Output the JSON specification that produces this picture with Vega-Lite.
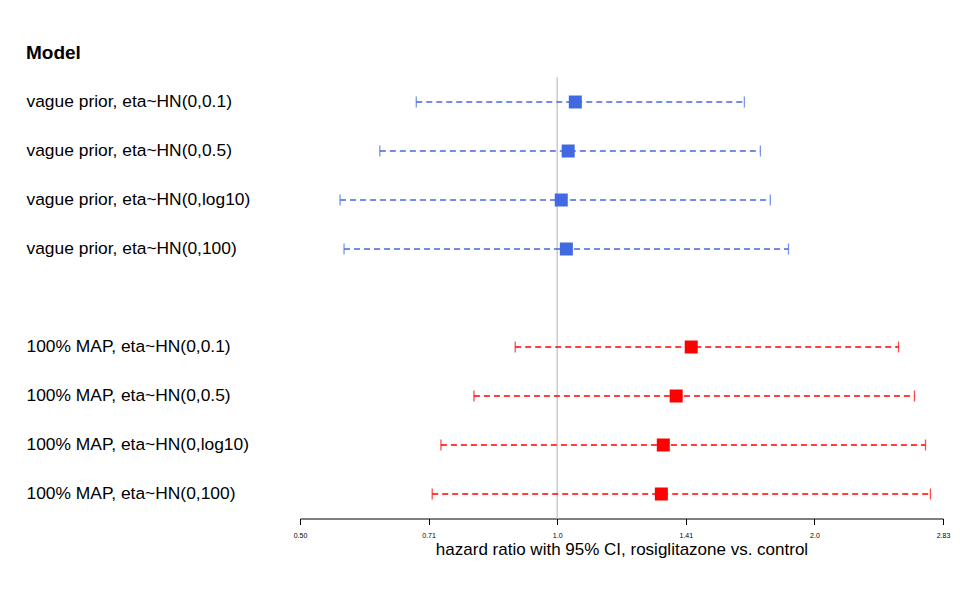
{
  "$schema": "https://vega.github.io/schema/vega-lite/v6.json",
  "width": 643,
  "height": 441,
  "autosize": {"type": "none"},
  "padding": {"left": 300, "top": 77.5, "right": 29, "bottom": 82.5},
  "background": "white",
  "title": {"text": "Model", "anchor": "start", "frame": "bounds", "font": "Liberation Sans", "fontSize": 19, "fontWeight": "bold", "color": "black", "offset": 14},
  "config": {"view": {"stroke": null}, "font": "Liberation Sans"},
  "data": {"values": [
    {"model": "vague prior, eta~HN(0,0.1)", "group": "vague", "est": 1.050, "lo": 0.684, "hi": 1.656},
    {"model": "vague prior, eta~HN(0,0.5)", "group": "vague", "est": 1.030, "lo": 0.620, "hi": 1.729},
    {"model": "vague prior, eta~HN(0,log10)", "group": "vague", "est": 1.011, "lo": 0.557, "hi": 1.776},
    {"model": "vague prior, eta~HN(0,100)", "group": "vague", "est": 1.025, "lo": 0.563, "hi": 1.865},
    {"model": "100% MAP, eta~HN(0,0.1)", "group": "MAP", "est": 1.435, "lo": 0.893, "hi": 2.509},
    {"model": "100% MAP, eta~HN(0,0.5)", "group": "MAP", "est": 1.378, "lo": 0.799, "hi": 2.619},
    {"model": "100% MAP, eta~HN(0,log10)", "group": "MAP", "est": 1.331, "lo": 0.731, "hi": 2.698},
    {"model": "100% MAP, eta~HN(0,100)", "group": "MAP", "est": 1.324, "lo": 0.714, "hi": 2.734}
  ]},
  "layer": [
    {
      "data": {"values": [{"ref": 1}]},
      "mark": {"type": "rule", "color": "#cccccc", "strokeWidth": 1.5},
      "encoding": {
        "x": {"field": "ref", "type": "quantitative", "title": "hazard ratio with 95% CI, rosiglitazone vs. control",
          "scale": {"type": "log", "base": 2, "domain": [0.5, 2.8284], "nice": false, "zero": false},
          "axis": {"values": [0.5, 0.7071, 1, 1.4142, 2, 2.8284],
            "labelExpr": "datum.value < 0.6 ? '0.50' : datum.value < 0.8 ? '0.71' : datum.value < 1.2 ? '1.0' : datum.value < 1.7 ? '1.41' : datum.value < 2.5 ? '2.0' : '2.83'",
            "grid": false, "tickSize": 6, "tickColor": "black", "domainColor": "black", "labelColor": "black", "labelFontSize": 7, "labelPadding": 7, "labelFlush": false,
            "titleFont": "Liberation Sans", "titleFontSize": 17, "titleFontWeight": "normal", "titleColor": "black", "titlePadding": 3}}
      }
    },
    {
      "mark": {"type": "rule", "strokeDash": [6, 4], "strokeWidth": 1.3},
      "encoding": {
        "x": {"field": "lo", "type": "quantitative", "title": "hazard ratio with 95% CI, rosiglitazone vs. control"},
        "x2": {"field": "hi"},
        "y": {"field": "model", "type": "nominal", "title": null,
          "scale": {"type": "band", "paddingInner": 0, "paddingOuter": 0, "domain": [
            "vague prior, eta~HN(0,0.1)", "vague prior, eta~HN(0,0.5)", "vague prior, eta~HN(0,log10)", "vague prior, eta~HN(0,100)", " ",
            "100% MAP, eta~HN(0,0.1)", "100% MAP, eta~HN(0,0.5)", "100% MAP, eta~HN(0,log10)", "100% MAP, eta~HN(0,100)"]},
          "axis": {"domain": false, "ticks": false, "tickSize": 0, "grid": false, "labelAlign": "left", "labelPadding": 274, "labelFont": "Liberation Sans", "labelFontSize": 17.4, "labelColor": "black", "labelLimit": 0}},
        "color": {"field": "group", "type": "nominal", "scale": {"domain": ["vague", "MAP"], "range": ["#4169E1", "#FF0000"]}, "legend": null}
      }
    },
    {
      "mark": {"type": "tick", "size": 11, "thickness": 1.3},
      "encoding": {
        "x": {"field": "lo", "type": "quantitative", "title": "hazard ratio with 95% CI, rosiglitazone vs. control"},
        "y": {"field": "model", "type": "nominal", "title": null},
        "color": {"field": "group", "type": "nominal", "legend": null}
      }
    },
    {
      "mark": {"type": "tick", "size": 11, "thickness": 1.3},
      "encoding": {
        "x": {"field": "hi", "type": "quantitative", "title": "hazard ratio with 95% CI, rosiglitazone vs. control"},
        "y": {"field": "model", "type": "nominal", "title": null},
        "color": {"field": "group", "type": "nominal", "legend": null}
      }
    },
    {
      "mark": {"type": "square", "size": 169, "opacity": 1, "filled": true},
      "encoding": {
        "x": {"field": "est", "type": "quantitative", "title": "hazard ratio with 95% CI, rosiglitazone vs. control"},
        "y": {"field": "model", "type": "nominal", "title": null},
        "color": {"field": "group", "type": "nominal", "legend": null}
      }
    }
  ]
}
